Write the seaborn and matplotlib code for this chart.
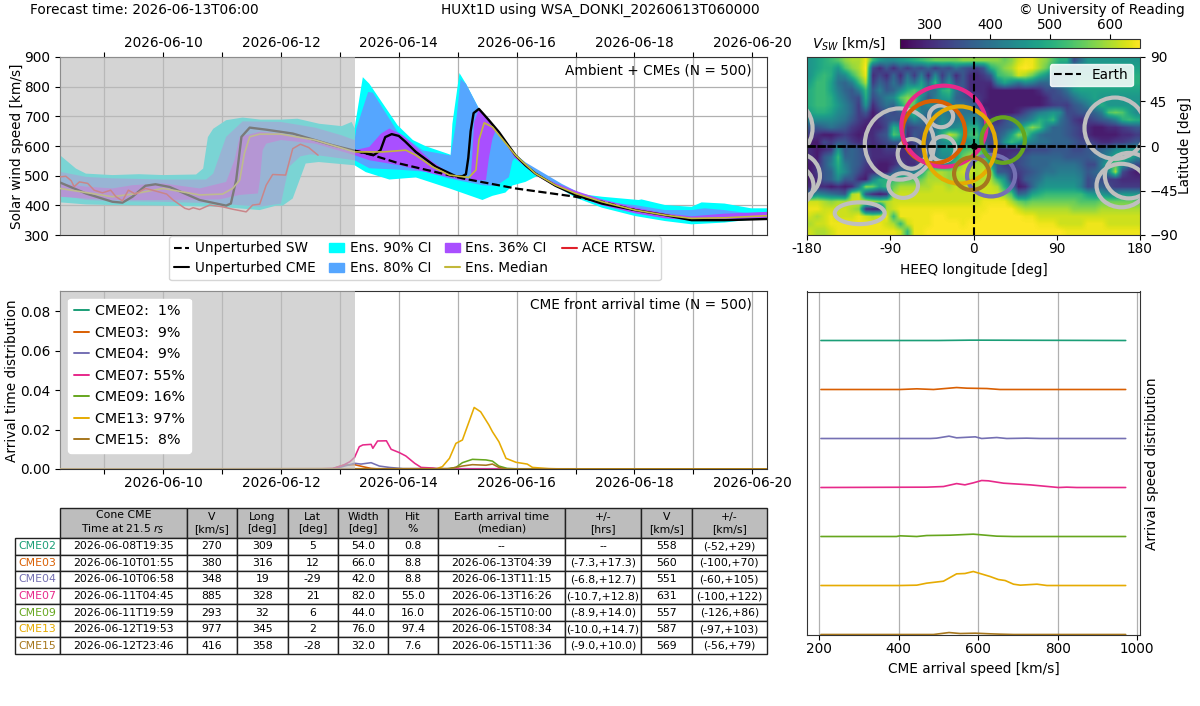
import numpy as np
import pandas as pd
import matplotlib
matplotlib.use("Agg")
import matplotlib.pyplot as plt
import matplotlib.dates as mdates
from matplotlib.patches import Ellipse, Patch
from matplotlib.lines import Line2D
import seaborn as sns

# ---------- time series: x in "day of June 2026", y in km/s ----------
d_u90 = [8.25,8.52,8.69,9.14,9.59,10.0,10.56,10.68,10.76,10.85,11.07,11.35,11.65,12.0,12.28,12.65,13.03,13.2,13.25,13.39,13.50,13.73,13.98,14.24,14.46,14.86,14.88,14.91,15.03,15.14,15.36,15.70,15.98,16.32,16.66,17.0,17.45,18.07,18.12,18.52,18.97,19.14,19.53,19.98,20.25]
v_u90 = [569,524,507,502,505,502,504,524,630,658,687,696,689,689,692,675,667,681,660,832,810,743,670,620,599,572,569,675,846,810,726,647,569,513,472,440,429,418,420,401,395,410,406,390,390]
d_l90 = [8.25,8.69,9.14,10.0,10.96,11.64,11.92,12.03,12.20,12.42,12.64,13.25,13.44,13.84,14.29,14.86,15.42,15.59,15.81,15.93,16.15,16.38,16.66,17.0,17.45,18.01,18.52,18.97,19.53,20.25]
v_l90 = [410,403,401,399,395,384,399,399,423,541,546,535,512,487,494,457,418,432,443,467,479,502,465,426,392,364,347,336,342,358]
d_u80 = [8.25,8.69,9.14,10.0,10.73,10.85,11.07,11.35,12.0,12.58,13.03,13.25,13.28,13.48,13.56,13.98,14.41,14.88,14.97,15.05,15.14,15.36,15.70,15.98,16.32,16.66,17.0,17.45,18.01,18.52,18.97,19.19,19.53,19.98,20.25]
v_u80 = [513,496,491,487,487,507,631,683,681,662,636,620,659,782,780,648,585,568,675,826,810,726,647,569,507,468,435,412,401,384,384,390,384,372,372]
d_l80 = [8.25,8.69,9.14,10.0,10.96,11.64,12.0,12.08,12.14,12.33,12.50,13.25,13.50,14.01,14.46,14.86,15.42,15.65,15.87,15.93,16.01,16.15,16.43,16.77,17.11,17.56,18.01,18.52,18.97,19.53,20.25]
v_l80 = [435,418,414,412,406,395,406,480,530,565,572,552,525,520,513,490,468,465,495,550,568,545,512,472,438,404,385,370,360,365,377]
d_u36 = [8.25,8.69,9.14,9.48,10.0,10.62,11.07,11.21,11.30,11.64,12.0,12.58,13.25,13.50,13.70,13.84,14.07,14.29,14.57,14.86,15.08,15.22,15.28,15.36,15.70,15.98,16.32,16.66,17.0,17.45,18.01,18.52,18.97,19.53,20.25]
v_u36 = [474,463,457,468,474,457,479,552,631,648,642,620,586,597,642,659,636,597,547,507,495,485,680,726,647,569,507,475,449,420,393,373,363,372,378]
d_l36 = [8.25,8.69,9.14,10.0,10.96,11.30,11.61,11.64,11.69,11.75,12.0,12.58,13.25,13.50,14.01,14.57,15.08,15.48,15.53,15.59,15.65,15.98,16.32,16.66,17.0,17.45,18.01,18.52,18.97,19.53,20.25]
v_l36 = [429,423,418,418,420,435,440,480,586,608,620,608,569,552,535,507,485,485,560,625,655,558,502,463,432,400,373,356,350,350,356]
d_med = [8.25,9.14,9.48,10.0,10.62,11.01,11.18,11.30,11.38,11.47,11.64,12.0,12.58,13.25,13.73,14.12,14.29,14.57,14.86,15.19,15.31,15.36,15.45,15.59,15.98,16.32,16.66,17.0,17.45,18.01,18.52,18.97,19.53,20.25]
v_med = [457,429,438,457,435,438,457,485,575,631,640,640,620,580,580,586,569,530,502,494,519,620,678,664,569,507,468,440,412,384,367,356,358,365]
d_cme = [8.25,8.69,9.14,9.31,9.48,9.70,9.87,10.11,10.62,11.07,11.15,11.24,11.33,11.47,11.75,12.20,12.87,13.25,13.58,13.69,13.77,13.88,14.0,14.11,14.29,14.63,14.97,15.08,15.14,15.18,15.22,15.27,15.36,15.45,15.53,15.70,15.85,15.98,16.15,16.32,16.66,17.0,17.45,18.01,18.52,18.97,19.53,20.25]
v_cme = [477,440,412,409,429,466,471,462,418,399,406,485,631,662,655,642,603,584,570,586,630,640,634,615,580,530,498,498,505,560,650,711,725,705,687,647,605,569,535,507,466,435,406,384,367,350,350,354]
d_sw = [13.25,13.56,14.01,15.08,15.98,17.0,17.45,18.01]
v_sw = [584,569,541,491,457,429,412,384]
d_ace = [8.25,8.35,8.44,8.49,8.58,8.72,8.83,8.97,9.11,9.20,9.31,9.41,9.53,9.70,9.82,10.06,10.17,10.37,10.44,10.51,10.62,10.79,11.01,11.18,11.41,11.52,11.64,11.75,11.86,12.08,12.20,12.33,12.47,12.63]
v_ace = [496,498,483,463,479,474,451,442,451,429,415,451,438,457,451,438,418,390,386,392,386,401,395,387,378,401,404,468,504,502,591,606,595,569]

# ---------- arrival time distribution ----------
cme_names = ["CME02","CME03","CME04","CME07","CME09","CME13","CME15"]
hit_labels = ["CME02:  1%","CME03:  9%","CME04:  9%","CME07: 55%","CME09: 16%","CME13: 97%","CME15:  8%"]
cme_colors = ["#1b9e77","#d95f02","#7570b3","#e7298a","#66a61e","#e6ab02","#a6761d"]
t02 = [8.25,20.25]; a02 = [0,0]
t03 = [8.25,12.88,13.05,13.25,13.39,13.53,13.67,20.25]; a03 = [0,0.0002,0.0019,0.0022,0.0012,0.0003,0,0]
t04 = [8.25,12.9,13.25,13.36,13.53,13.67,13.84,14.07,20.25]; a04 = [0,0,0.0029,0.0025,0.0032,0.0015,0.0008,0.0002,0]
t07 = [8.25,12.6,12.88,13.05,13.17,13.25,13.33,13.39,13.53,13.56,13.64,13.79,13.87,14.01,14.12,14.27,14.38,14.58,14.69,20.25]
a07 = [0,0,0.0003,0.0018,0.0037,0.0059,0.0113,0.0122,0.0125,0.0105,0.0142,0.0143,0.010,0.0083,0.0066,0.0029,0.0008,0.0005,0,0]
t09 = [8.25,14.8,14.97,15.08,15.25,15.48,15.59,15.7,15.84,16.04,20.25]; a09 = [0,0,0.0008,0.0032,0.0049,0.0046,0.004,0.0015,0.0003,0,0]
t13 = [8.25,14.63,14.74,14.86,14.97,15.08,15.28,15.39,15.53,15.59,15.7,15.82,15.99,16.18,16.27,16.55,16.83,20.25]
a13 = [0,0,0.0012,0.0054,0.013,0.0147,0.0312,0.029,0.0223,0.0189,0.0138,0.0054,0.0034,0.0025,0.0008,0.0002,0,0]
t15 = [8.25,14.86,15.08,15.25,15.48,15.59,15.7,15.82,20.25]; a15 = [0,0.0002,0.0015,0.0022,0.0019,0.0025,0.0008,0,0]
arrival_t = [t02,t03,t04,t07,t09,t13,t15]
arrival_a = [a02,a03,a04,a07,a09,a13,a15]

# ---------- arrival speed distribution (offset stacked) ----------
s02 = [205,400,500,580,600,971]; p02 = [0,0,0,0.007,0.007,0]
s03 = [205,404,446,488,546,572,622,655,971]; p03 = [0,0,0.014,0,0.04,0.027,0.02,0,0]
s04 = [205,480,496,527,546,593,609,647,672,722,756,971]; p04 = [0,0,0.007,0.048,0.014,0.034,0,0.02,0,0.007,0,0]
s07 = [205,471,513,546,567,588,609,626,664,731,802,823,848,971]; p07 = [0,0.007,0.02,0.08,0.054,0.095,0.143,0.136,0.088,0.054,0,0.007,0,0]
s09 = [205,395,404,446,471,530,588,647,689,971]; p09 = [0,0,0.014,0,0.02,0.027,0.048,0.007,0,0]
s13 = [205,404,446,471,513,546,567,588,630,651,668,689,706,748,773,971]; p13 = [0,0,0.007,0.048,0.088,0.238,0.245,0.286,0.184,0.122,0.102,0.027,0.007,0.027,0,0]
s15 = [205,488,527,555,593,630,655,689,971]; p15 = [0,0,0.04,0.02,0.027,0.014,0.007,0,0]
speed_s = [s02,s03,s04,s07,s09,s13,s15]
speed_p = [p02,p03,p04,p07,p09,p13,p15]
speed_offsets = [6,5,4,3,2,1,0]

# ---------- solar wind speed map, units of 10 km/s, 7.5 deg cells, rows from north to south ----------
map_rows = [
[46,48,50,52,54,58,60,60,64,52,46,44,44,46,48,50,52,54,56,56,56,56,58,58,58,58,58,58,56,58,62,64,64,60,58,54,50,50,34,40,46,46,46,46,46,46,46,46],
[46,48,50,50,46,54,58,60,65,34,30,36,30,36,32,36,34,38,32,36,34,40,36,34,32,36,50,54,58,60,64,65,64,60,56,50,46,44,44,46,46,47,47,48,48,48,48,48],
[46,50,52,50,42,44,52,58,64,30,34,30,38,30,40,32,42,30,44,32,40,30,36,30,30,32,36,52,54,56,62,60,56,50,46,40,42,44,46,48,48,48,50,50,50,50,50,50],
[48,52,52,48,40,38,42,52,60,32,38,34,40,34,44,40,48,38,52,36,46,34,36,30,30,30,30,42,48,44,40,44,42,38,38,40,44,46,48,50,50,50,50,50,50,50,50,50],
[50,52,52,48,42,38,36,42,52,36,42,36,38,44,50,54,50,40,40,50,52,40,36,30,30,30,28,28,28,28,28,28,28,30,34,34,36,40,46,48,48,48,48,48,48,48,48,48],
[50,52,52,50,44,40,36,34,50,34,38,42,44,54,58,56,44,36,42,46,48,38,36,34,32,30,28,28,28,28,28,28,28,28,30,34,34,36,40,44,46,48,46,46,46,46,46,46],
[50,52,52,50,46,42,38,32,46,30,36,40,38,48,58,54,40,44,42,42,42,40,40,38,36,28,28,28,28,28,28,28,28,28,30,32,33,32,36,38,42,46,50,46,46,46,46,46],
[48,50,50,48,44,42,38,32,36,28,32,36,34,36,48,52,42,38,40,42,40,40,40,40,40,32,28,28,28,28,30,34,38,42,44,46,44,34,34,36,36,38,42,54,56,54,48,44],
[44,44,44,44,42,40,36,32,30,28,32,34,36,34,38,44,40,36,38,44,42,40,42,44,44,36,30,30,34,38,38,40,44,50,48,52,40,36,32,30,32,34,36,38,42,50,52,50],
[36,36,38,40,38,36,32,30,28,30,30,34,50,46,32,34,36,36,40,46,42,44,46,50,50,38,34,34,36,38,44,52,58,54,44,38,38,36,34,32,30,28,28,30,30,32,34,36],
[32,30,28,28,30,32,30,28,30,30,34,36,54,50,30,36,34,36,42,50,62,58,48,52,54,40,34,36,40,48,58,56,46,40,38,38,38,36,34,32,30,28,28,28,28,30,30,32],
[28,28,34,32,36,36,32,30,32,30,32,34,36,36,30,34,34,36,40,44,46,50,44,46,50,38,34,36,46,52,48,44,42,40,40,38,38,38,36,34,34,32,30,30,32,32,34,36],
[30,28,30,32,46,36,38,36,32,30,30,32,32,30,30,32,34,36,40,46,46,50,52,54,56,50,30,30,30,30,30,32,34,34,34,36,36,36,34,34,36,36,38,40,44,46,46,46],
[30,28,36,40,52,38,38,36,34,30,30,30,30,30,30,32,34,38,42,44,44,48,56,60,58,54,44,30,30,32,34,36,38,38,38,38,38,36,36,36,36,38,40,44,50,52,50,44],
[28,30,36,42,50,42,38,36,32,30,28,28,30,34,30,30,36,46,46,44,46,54,60,62,60,60,48,36,32,32,34,36,38,38,38,40,40,40,40,38,34,34,42,50,54,46,38,34],
[28,32,36,38,48,44,38,34,30,30,28,28,36,40,40,42,48,58,60,60,58,60,62,62,60,62,60,36,36,33,32,34,36,38,40,40,42,42,42,40,36,38,40,44,60,34,30,28],
[28,30,36,38,44,36,36,30,28,42,50,50,52,54,54,54,56,60,60,60,58,60,60,60,60,60,60,52,46,32,30,36,38,40,44,44,44,44,44,42,34,36,34,32,32,30,30,30],
[30,30,30,28,30,28,30,40,58,56,48,52,56,60,60,60,60,60,62,62,60,62,60,62,60,62,62,60,50,42,28,30,38,44,46,46,46,46,46,42,34,36,38,34,32,32,32,32],
[40,44,42,40,38,36,60,62,36,30,28,30,60,62,62,62,62,62,62,62,62,62,62,62,62,62,62,62,58,54,38,40,48,50,52,52,52,52,52,52,48,46,46,44,44,46,46,46],
[62,62,60,58,60,60,62,62,62,60,58,60,62,62,62,62,62,62,62,62,62,62,62,62,62,64,64,64,64,60,56,54,56,56,56,56,56,56,56,54,54,54,56,56,56,56,56,56],
[64,64,62,62,62,62,60,58,30,28,28,60,62,64,64,64,64,64,64,64,64,64,64,64,64,64,65,65,65,65,62,60,60,60,60,60,60,60,58,58,58,58,60,60,60,60,60,60],
[62,60,62,64,62,62,62,64,62,60,62,64,52,64,64,64,64,64,65,65,64,64,64,64,64,65,65,65,65,65,65,64,64,62,62,62,62,62,62,62,62,62,62,62,62,62,62,62],
[60,62,62,64,64,64,64,64,64,64,64,62,60,52,62,64,64,64,65,65,65,65,64,65,65,65,65,65,65,65,65,65,65,64,64,64,62,62,62,62,64,64,64,62,62,62,62,62],
[62,60,60,62,64,64,64,64,64,64,64,64,64,62,52,64,64,65,65,65,65,65,65,65,65,65,65,65,65,65,65,65,65,65,65,65,65,64,64,64,64,64,64,64,64,64,64,64],
]
gray_lon = [-80,-67,-35,-33,-76,-123,153,168,160]
gray_lat = [2,-8,30,-3,-40,-68,18,-30,-40]
gray_rx  = [37.5,15,13,13.5,16,27,33,26,27]
gray_ry  = [36,15,11,12.7,12.5,11,31,23,22]
hit_idx = [1,2,3,4,5,6]
hit_lon = [-43,19,-32,32,-15,-2]
hit_lat = [14,-30,20,6,1,-28]
hit_rx  = [34,26,46,23.5,39,19]
hit_ry  = [31.5,21,41,23,39,16.5]

# ---------- table ----------
tbl_header = ["","Cone CME\nTime at 21.5 $r_S$","V\n[km/s]","Long\n[deg]","Lat\n[deg]","Width\n[deg]","Hit\n%","Earth arrival time\n(median)","+/-\n[hrs]","V\n[km/s]","+/-\n[km/s]"]
tbl_rows = [
["CME02","2026-06-08T19:35","270","309","5","54.0","0.8","--","--","558","(-52,+29)"],
["CME03","2026-06-10T01:55","380","316","12","66.0","8.8","2026-06-13T04:39","(-7.3,+17.3)","560","(-100,+70)"],
["CME04","2026-06-10T06:58","348","19","-29","42.0","8.8","2026-06-13T11:15","(-6.8,+12.7)","551","(-60,+105)"],
["CME07","2026-06-11T04:45","885","328","21","82.0","55.0","2026-06-13T16:26","(-10.7,+12.8)","631","(-100,+122)"],
["CME09","2026-06-11T19:59","293","32","6","44.0","16.0","2026-06-15T10:00","(-8.9,+14.0)","557","(-126,+86)"],
["CME13","2026-06-12T19:53","977","345","2","76.0","97.4","2026-06-15T08:34","(-10.0,+14.7)","587","(-97,+103)"],
["CME15","2026-06-12T23:46","416","358","-28","32.0","7.6","2026-06-15T11:36","(-9.0,+10.0)","569","(-56,+79)"],
]
tbl_edges = [15,60,186.5,237,287.5,338,388,438,565,641,691.5,767]

# ---------- style ----------
sns.set_style("ticks")
plt.rcParams.update({"font.family":"DejaVu Sans","font.size":9.8,"axes.labelsize":9.8,
    "xtick.labelsize":9.8,"ytick.labelsize":9.8,"legend.fontsize":9.8,"mathtext.default":"it",
    "xtick.bottom":True,"ytick.left":True,"axes.edgecolor":"#333333","xtick.color":"black","ytick.color":"black",
    "text.color":"black","axes.labelcolor":"black","font.sans-serif":["DejaVu Sans"],"xtick.major.pad":1.5})
W, H = 1200, 706
fig = plt.figure(figsize=(W/100, H/100), dpi=100)
def axpx(x0, y0, x1, y1):
    return fig.add_axes([x0/W, 1-y1/H, (x1-x0)/W, (y1-y0)/H])
def dt(days):
    return pd.Timestamp("2026-06-01") + pd.to_timedelta(np.asarray(days, float)-1, unit="D")
def num(days):
    return mdates.date2num(dt(days))
def line(ax, x, y, **kw):
    sns.lineplot(x=x, y=y, ax=ax, estimator=None, sort=False, errorbar=None, legend=False, **kw)
def band(ax, du, vu, dl, vl, color, z):
    ax.fill(np.r_[num(du), num(dl)[::-1]], np.r_[vu, vl[::-1]], color=color, lw=0, zorder=z)

xlo, xhi = dt([8.25, 20.25]); now = dt([13.25])[0]
day_ticks = dt(np.arange(9, 21))
def timeaxis(ax):
    ax.set_xlim(xlo, xhi)
    ax.set_xticks(day_ticks)
    ax.set_xticklabels([t.strftime("%Y-%m-%d") if t.day % 2 == 0 else "" for t in day_ticks])
    ax.axvspan(xlo, now, color="0.74", alpha=0.65, lw=0, zorder=5)
    ax.set_xlabel("")

# ---------- panel 1 ----------
ax1 = axpx(60, 57, 767, 235)
C90, C80, C36, CMED, CACE = "#00ffff", "#55a6ff", "#a94fff", "#c2b83a", "#e0202a"
band(ax1, d_u90, v_u90, d_l90, v_l90, C90, 2)
band(ax1, d_u80, v_u80, d_l80, v_l80, C80, 2.1)
band(ax1, d_u36, v_u36, d_l36, v_l36, C36, 2.2)
line(ax1, dt(d_sw), v_sw, color="k", lw=1.6, ls="--", zorder=3)
line(ax1, dt(d_cme), v_cme, color="k", lw=1.7, zorder=3.1)
line(ax1, dt(d_med), v_med, color=CMED, lw=1.2, zorder=3.2)
line(ax1, dt(d_ace), v_ace, color=CACE, lw=1.1, zorder=3.3)
timeaxis(ax1)
ax1.xaxis.tick_top()
ax1.set_ylim(300, 900)
ax1.set_yticks(range(300, 901, 100))
ax1.set_ylabel("Solar wind speed [km/s]", labelpad=0)
ax1.grid(True, color="#b0b0b0", lw=0.9, zorder=0); ax1.set_axisbelow(True)
ax1.text(0.978, 0.925, "Ambient + CMEs (N = 500)", transform=ax1.transAxes, ha="right", va="center", zorder=6)
h1 = [Line2D([],[],color="k",ls="--",lw=1.5,label="Unperturbed SW"), Line2D([],[],color="k",lw=1.5,label="Unperturbed CME"),
      Patch(color=C90,label="Ens. 90% CI"), Patch(color=C80,label="Ens. 80% CI"),
      Patch(color=C36,label="Ens. 36% CI"), Line2D([],[],color=CMED,lw=1.5,label="Ens. Median"),
      Line2D([],[],color=CACE,lw=1.5,label="ACE RTSW.")]
ax1.legend(handles=h1, ncol=4, loc="upper left", bbox_to_anchor=((169-60)/707, -0.005), borderaxespad=0,
           columnspacing=1.0, handlelength=1.1, handletextpad=0.4, labelspacing=0.42, borderpad=0.4)

# ---------- panel 2 ----------
ax2 = axpx(60, 291.5, 767, 469)
for t, a, c in zip(arrival_t, arrival_a, cme_colors):
    line(ax2, dt(t), a, color=c, lw=1.15, zorder=3)
timeaxis(ax2)
ax2.set_ylim(0, 0.09)
ax2.set_yticks([0, .02, .04, .06, .08])
ax2.set_yticklabels(["0.00","0.02","0.04","0.06","0.08"])
ax2.set_ylabel("Arrival time distribution", labelpad=1)
ax2.grid(True, axis="x", color="#b0b0b0", lw=0.9, zorder=0); ax2.set_axisbelow(True)
ax2.text(0.978, 0.925, "CME front arrival time (N = 500)", transform=ax2.transAxes, ha="right", va="center", zorder=6)
h2 = [Line2D([],[],color=c,lw=1.4,label=l) for c, l in zip(cme_colors, hit_labels)]
leg2 = ax2.legend(handles=h2, loc="upper left", bbox_to_anchor=(8/707, 0.96), borderaxespad=0, fontsize=10.3,
                  framealpha=1, edgecolor="white", labelspacing=0.52, handlelength=1.1, handletextpad=0.4, borderpad=0.4)
leg2.set_zorder(10)

# ---------- map ----------
ax3 = axpx(807, 57, 1140, 235)
vmap = np.array(map_rows, float) * 10
im = ax3.imshow(vmap, extent=[-180,180,-90,90], origin="upper", aspect="auto", cmap=sns.color_palette("viridis", as_cmap=True),
                vmin=250, vmax=650, interpolation="bilinear", zorder=1)
for lo, la, rx, ry in zip(gray_lon, gray_lat, gray_rx, gray_ry):
    for shift in (-360, 0, 360):
        ax3.add_patch(Ellipse((lo+shift, la), 2*rx, 2*ry, fill=False, ec="#bfbfbf", lw=3, zorder=2))
for i, lo, la, rx, ry in zip(hit_idx, hit_lon, hit_lat, hit_rx, hit_ry):
    ax3.add_patch(Ellipse((lo, la), 2*rx, 2*ry, fill=False, ec=cme_colors[i], lw=3, zorder=3))
ax3.axhline(0, color="k", lw=2, ls=(0, (3, 0.6)), zorder=4)
ax3.axvline(0, color="k", lw=1.5, ls="--", zorder=4)
ax3.plot([0], [0], "o", color="k", ms=4, zorder=4)
ax3.set_xlim(-180, 180); ax3.set_ylim(-90, 90)
ax3.set_xticks([-180,-90,0,90,180]); ax3.set_xticklabels(["-180","-90","0","90","180"])
ax3.set_yticks([-90,-45,0,45,90])
ax3.yaxis.tick_right(); ax3.yaxis.set_label_position("right")
ax3.set_xlabel("HEEQ longitude [deg]", labelpad=5); ax3.set_ylabel("Latitude [deg]", labelpad=0)
ax3.legend(handles=[Line2D([],[],color="k",ls="--",lw=1.5,label="Earth")], loc="upper right",
           bbox_to_anchor=(0.978, 0.96), borderaxespad=0, framealpha=0.85, edgecolor="white", borderpad=0.3)
cax = axpx(900, 39, 1140, 48)
cb = fig.colorbar(im, cax=cax, orientation="horizontal")
cb.set_ticks([300,400,500,600])
cax.xaxis.tick_top()
fig.text(886/W, 1-44/H, "$V_{SW}$ [km/s]", ha="right", va="center")

# ---------- speed panel ----------
ax4 = axpx(807, 291.5, 1140, 635)
for s, p, off, c in zip(speed_s, speed_p, speed_offsets, cme_colors):
    line(ax4, s, np.array(p)+off, color=c, lw=1.2, zorder=3)
ax4.set_xlim(170, 1007); ax4.set_ylim(-0.01, 7.0)
ax4.set_xticks([200,400,600,800,1000]); ax4.set_yticks([])
ax4.yaxis.set_label_position("right")
ax4.set_xlabel("CME arrival speed [km/s]", labelpad=4)
ax4.set_ylabel("Arrival speed distribution", labelpad=3.5)
ax4.grid(True, axis="x", color="#b0b0b0", lw=0.9, zorder=0); ax4.set_axisbelow(True)

# ---------- table ----------
ax5 = axpx(15, 508, 767, 654); ax5.axis("off")
widths = np.diff(tbl_edges) / (tbl_edges[-1]-tbl_edges[0])
tb = ax5.table(cellText=[tbl_header]+tbl_rows, colWidths=list(widths), cellLoc="center", bbox=[0,0,1,1])
tb.auto_set_font_size(False); tb.set_fontsize(7.8)
for (r, c), cell in tb.get_celld().items():
    cell.set_height((30 if r == 0 else 16.5)/146)
    cell.set_edgecolor("#222222"); cell.set_linewidth(1.0)
    cell.PAD = 0.02
    if r == 0:
        if c == 0:
            cell.set_visible(False)
        cell.set_facecolor("#bdbdbd")
        cell.get_text().set_linespacing(1.2)
    elif c == 0:
        cell.get_text().set_color(cme_colors[r-1])

fig.text(30/W, 1-10/H, "Forecast time: 2026-06-13T06:00", ha="left", va="center")
fig.text(600/W, 1-10/H, "HUXt1D using WSA_DONKI_20260613T060000", ha="center", va="center")
fig.text(1185/W, 1-10/H, "© University of Reading", ha="right", va="center", fontsize=9.9)
fig.savefig("out.png", dpi=100)
